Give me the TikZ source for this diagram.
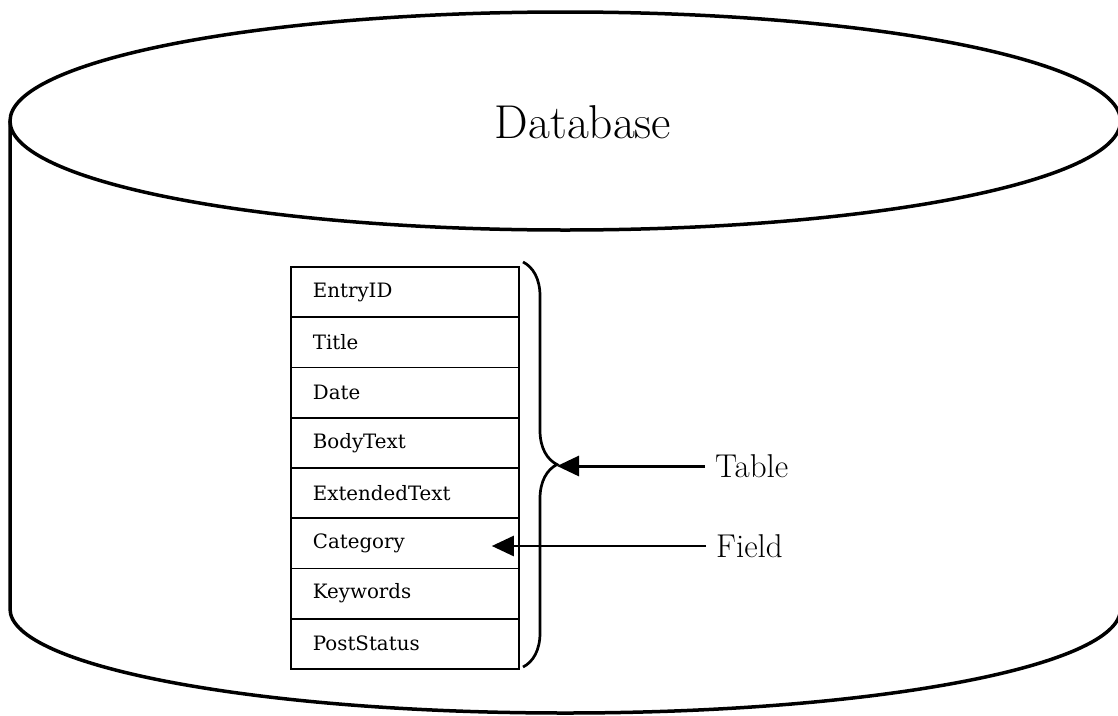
\documentclass[tikz,border=0pt]{standalone}
\usepackage{fontspec}
\newfontfamily\rowfont{DejaVu Serif}
\usetikzlibrary{arrows.meta,decorations.pathreplacing}
\begin{document}
\begin{tikzpicture}[x=1pt,y=-1pt,
  cyl/.style={line width=3.5pt},
  fieldbox/.style={draw, line width=1.8pt, minimum height=50.25pt, text width=184pt,
    inner xsep=22pt, inner ysep=0pt, align=left, anchor=north west,
    font=\rowfont\fontsize{19.8}{23}\selectfont},
  lbl/.style={font=\fontsize{33}{37}\selectfont, anchor=west, inner sep=10pt},
  arr/.style={line width=3pt, -{Triangle[length=22pt,width=20pt]}},
  bracestyle/.style={line width=2.7pt, decorate, decoration={brace, amplitude=34pt}}]
\useasboundingbox (0,0) rectangle (1118,715);
% cylinder
\draw[cyl] (565.25,121) ellipse [x radius=555.25pt, y radius=109pt];
\draw[cyl] (10,121) -- (10,609) arc[start angle=180, end angle=360, x radius=555.25pt, y radius=104pt] -- (1120.5,121);
\node[font=\fontsize{47.5}{54}\selectfont, anchor=base] (db) at (583,138) {Database};
% table rows
\foreach \t [count=\i] in {EntryID,Title,Date,BodyText,ExtendedText,Category,Keywords,PostStatus}
  \node[fieldbox] (r\i) at (290,{266+(\i-1)*50.25}) {\t};
% brace
\draw[bracestyle] (523,262) -- (523,667);
\coordinate (btip) at (557,464.5);
% labels and arrows
\node[lbl] (tab) at (705,466) {Table};
\node[lbl] (fld) at (706,546) {Field};
\coordinate (ftip) at ([xshift=-28pt]r6.east);
\draw[arr] (tab.west) -- (tab.west -| btip);
\draw[arr, line width=2.6pt] (fld.west) -- (fld.west -| ftip);
\end{tikzpicture}
\end{document}
